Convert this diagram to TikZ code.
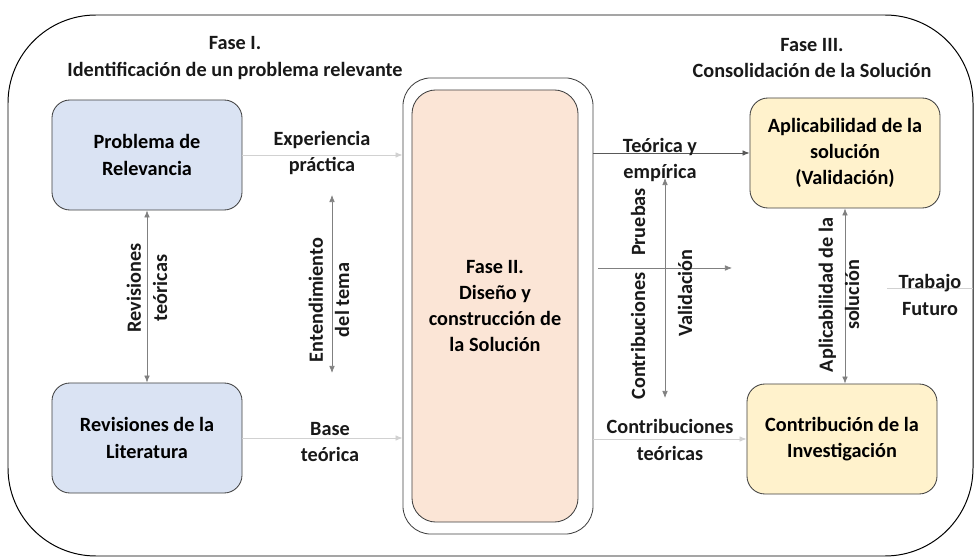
\documentclass[tikz,border=0pt]{standalone}
\usepackage{fontspec}
\setmainfont{Carlito}
\usetikzlibrary{arrows.meta}

\definecolor{azulcaja}{HTML}{DAE3F3}
\definecolor{rosacaja}{HTML}{FBE5D6}
\definecolor{amarcaja}{HTML}{FFF2CC}

\begin{document}
\begin{tikzpicture}[x=0.025cm,y=-0.025cm,
		font=\bfseries\fontsize{14.4}{18.6}\selectfont,
		>={Latex[length=5pt,width=4pt]},
		caja/.style={draw=black!75,line width=0.6pt,rounded corners=0.45cm,
			minimum width=4.75cm,minimum height=2.75cm,align=center},
		etiq/.style={align=center,text=black!90},
		flecha/.style={draw=black!50,line width=0.5pt},
		tenue/.style={draw=black!18,line width=0.6pt}]
		\useasboundingbox (0,0) rectangle (975,557);
		\draw[rounded corners=2.2cm,line width=0.7pt] (8,15) rectangle (973,556);
		
		\node[etiq] (faseI) at (235,58) {Fase I.\\Identificación de un problema relevante};
		\node[etiq] (faseIII) at (812,58) {Fase III.\\Consolidación de la Solución};
		
		\node[caja,fill=azulcaja] (prob) at (147,155) {Problema de\\Relevancia};
		\node[caja,fill=azulcaja] (lit) at (147,438) {Revisiones de la\\Literatura};
		\node[draw=black!75,line width=0.6pt,rounded corners=0.7cm,
			minimum width=4.75cm,minimum height=11.4cm] (fase) at (498,306) {};
		\node[draw=black!75,line width=0.6pt,fill=rosacaja,rounded corners=0.6cm,
			minimum width=4.15cm,minimum height=10.8cm,align=center] (faseII) at (495,306)
			{Fase II.\\Diseño y\\construcción de\\la Solución};
		\node[caja,fill=amarcaja] (valid) at (845,153) {Aplicabilidad de la\\solución\\(Validación)};
		\node[caja,fill=amarcaja] (contrib) at (842,439) {Contribución de la\\Investigación};
		
		\coordinate (ent1) at (332,195);
		\coordinate (ent2) at (332,373);
		\coordinate (pru1) at (598,268);
		\coordinate (pru2) at (732,268);
		\coordinate (val1) at (665,178);
		\coordinate (val2) at (665,398);
		\coordinate (fut1) at (887,288);
		\coordinate (fut2) at (973,288);
		
		\draw[tenue,->] (prob) -- (prob -| fase.west);
		\draw[tenue,->] (lit) -- (lit -| fase.west);
		\draw[draw=black!65,line width=0.6pt,->] (valid -| fase.east) -- (valid);
		\draw[tenue,->] (contrib -| fase.east) -- (contrib);
		\draw[flecha,<->] (prob) -- (lit);
		\draw[flecha,<->] (ent1) -- (ent2);
		\draw[flecha,->] (pru1) -- (pru2);
		\draw[flecha,<->] (val1) -- (val2);
		\draw[flecha,<->] (valid.south) -- (valid.south |- contrib.north);
		\draw[tenue] (fut1) -- (fut2);
		
		\node[etiq] (exp) at (322,153) {Experiencia\\práctica};
		\node[etiq] (base) at (330,442) {Base\\teórica};
		\node[etiq] (teor) at (660,160) {Teórica y\\empírica};
		\node[etiq] (contt) at (670,440) {Contribuciones\\teóricas};
		\node[etiq] (trab) at (930,295) {Trabajo\\Futuro};
		\node[etiq,rotate=90] (revt) at (147,288) {Revisiones\\teóricas};
		\node[etiq,rotate=90] (entd) at (329,300) {Entendimiento\\del tema};
		\node[etiq,rotate=90] (prue) at (638,222) {Pruebas};
		\node[etiq,rotate=90] (contr) at (638,336) {Contribuciones};
		\node[etiq,rotate=90] (vali) at (685,293) {Validación};
		\node[etiq,rotate=90] (aplic) at (839,295) {Aplicabilidad de la\\solución};
\end{tikzpicture}
\end{document}
